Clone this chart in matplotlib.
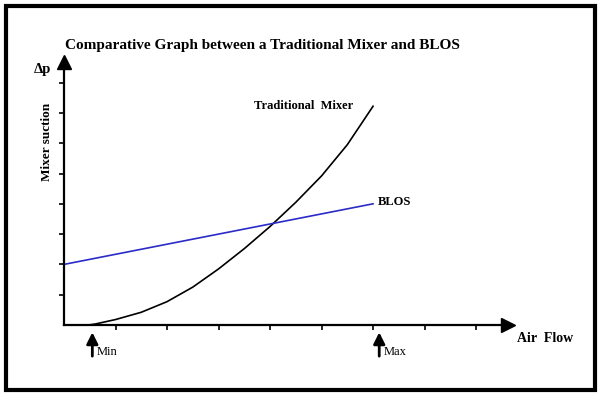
import numpy as np
import matplotlib
matplotlib.use("Agg")
import matplotlib.pyplot as plt
from matplotlib.patches import Rectangle

plt.rcParams['font.family'] = ['Liberation Serif', 'DejaVu Serif']

# curva del mezclador tradicional
mixer_x = [0.47, 0.6, 1.0, 1.5, 2.0, 2.5, 3.0, 3.5, 4.0, 4.5, 5.0, 5.5, 6.0]
mixer_y = [0.0, 0.03, 0.18, 0.42, 0.77, 1.25, 1.85, 2.52, 3.25, 4.05, 4.92, 5.95, 7.22]
# BLOS, recta
blos_x = [0.0, 6.0]
blos_y = [2.0, 4.0]
# flujo minimo y maximo
flow_min = 0.55
flow_max = 6.12

W, H = 600, 397
fig = plt.figure(figsize=(6, 3.97), dpi=100)
ax = fig.add_axes([64/W, 1-325/H, (508-64)/W, (325-62)/H])
ax.set_xlim(0, 8.62)
ax.set_ylim(0, 8.68)

ax.plot(mixer_x, mixer_y, color="black", lw=1.2)
ax.plot(blos_x, blos_y, color="#2b2bc8", lw=1.2)

for s in ["top", "right"]:
    ax.spines[s].set_visible(False)
ax.spines["left"].set_linewidth(1.6)
ax.spines["bottom"].set_linewidth(1.6)
ax.plot(1, 0, marker=">", ms=10, color="black", transform=ax.transAxes, clip_on=False)
ax.plot(0, 1, marker="^", ms=10, color="black", transform=ax.transAxes, clip_on=False)

ax.set_xticks(range(1, 9))
ax.set_yticks(range(1, 9))
ax.set_xticklabels([])
ax.set_yticklabels([])
ax.tick_params(direction="out", length=3.5, width=1.2)

ax.text(5.61, 7.23, "Traditional  Mixer", ha="right", va="center", fontsize=9, fontweight="bold")
ax.text(6.1, 4.07, "BLOS", ha="left", va="center", fontsize=9, fontweight="bold")

for xv, lab in [(flow_min, "Min"), (flow_max, "Max")]:
    ax.annotate("", xy=(xv, -0.15), xytext=(xv, -1.12), xycoords="data",
                arrowprops=dict(arrowstyle="-|>", color="black", lw=2, mutation_scale=17),
                annotation_clip=False)
    ax.text(xv + 0.08, -0.9, lab, ha="left", va="center", fontsize=9)

fig.text(262.5/W, 1-45/H, "Comparative Graph between a Traditional Mixer and BLOS",
         ha="center", va="center", fontsize=11, fontweight="bold")
fig.text(42.5/W, 1-70/H, "Δp", ha="center", va="center", fontsize=10.5, fontweight="bold")
fig.text(47/W, 1-142/H, "Mixer suction", ha="center", va="center", rotation=90,
         fontsize=9.5, fontweight="bold")
fig.text(545.5/W, 1-338/H, "Air  Flow", ha="center", va="center", fontsize=10, fontweight="bold")

fig.patches.append(Rectangle((6/W, 1-390/H), 589/W, 384/H, transform=fig.transFigure,
                             fill=False, lw=3, edgecolor="black"))

fig.savefig("out.png", dpi=100)
